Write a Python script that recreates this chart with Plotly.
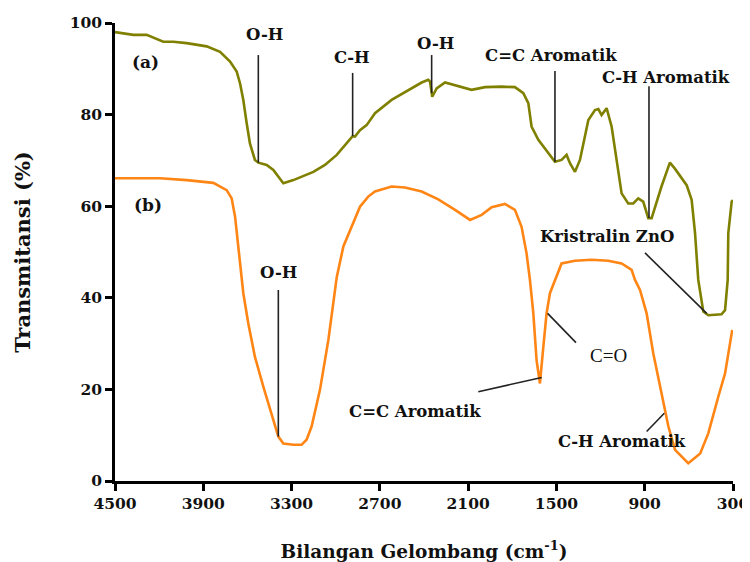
import plotly.graph_objects as go

# ---- data ----
wavenumber_a = [4500, 4375, 4285, 4172, 4104, 4013, 3877, 3786, 3718, 3673, 3650, 3628, 3605, 3583,
                3549, 3526, 3469, 3424, 3356, 3288, 3152, 3073, 2993, 2925, 2885, 2869, 2835, 2790,
                2733, 2620, 2507, 2416, 2371, 2359, 2344, 2314, 2257, 2167, 2077, 1985, 1872, 1782,
                1725, 1691, 1669, 1623, 1555, 1510, 1465, 1431, 1408, 1374, 1340, 1283, 1238, 1215,
                1193, 1159, 1125, 1057, 1012, 978, 944, 910, 876, 853, 786, 729, 695, 615, 581, 558,
                536, 502, 468, 378, 354, 343, 336, 332, 309, 300]
trans_a = [98.0, 97.4, 97.4, 95.9, 95.9, 95.6, 94.9, 93.7, 91.6, 89.4, 86.8, 83.2, 78.1, 73.7,
           70.1, 69.5, 69.0, 67.9, 65.0, 65.7, 67.5, 69.0, 71.2, 73.7, 75.3, 75.2, 76.6, 77.7,
           80.3, 83.2, 85.4, 87.0, 87.6, 87.2, 83.9, 85.7, 87.0, 86.2, 85.4, 86.0, 86.1, 86.0,
           84.7, 82.5, 77.4, 74.5, 71.6, 69.7, 70.1, 71.2, 69.4, 67.5, 70.1, 78.8, 81.0, 81.2,
           79.9, 81.4, 77.4, 62.8, 60.6, 60.6, 61.7, 61.0, 57.4, 57.4, 64.3, 69.5, 68.2, 64.6, 61.4, 54.1,
           43.9, 37.0, 36.2, 36.4, 37.3, 41.7, 43.9, 54.1, 61.0, 61.3]

wavenumber_b = [4500, 4375, 4194, 4013, 3832, 3741, 3707, 3684, 3662, 3639, 3628, 3594, 3549, 3492,
                3435, 3390, 3356, 3288, 3232, 3198, 3164, 3107, 3050, 3005, 2993, 2948, 2892, 2835,
                2779, 2733, 2620, 2529, 2416, 2303, 2189, 2087, 2008, 1940, 1850, 1782, 1737, 1703,
                1680, 1657, 1635, 1612, 1589, 1567, 1544, 1510, 1465, 1374, 1261, 1148, 1057, 989,
                966, 932, 887, 842, 796, 739, 694, 604, 523, 468, 400, 354, 305]
trans_b = [66.1, 66.1, 66.1, 65.7, 65.1, 63.5, 61.7, 57.7, 51.2, 45.3, 41.0, 34.4, 27.1, 20.6,
           14.8, 9.7, 8.2, 7.9, 7.9, 9.0, 11.9, 19.9, 30.8, 41.0, 44.5, 51.2, 55.5, 59.9,
           62.1, 63.2, 64.3, 64.1, 63.2, 61.5, 59.2, 57.0, 58.1, 59.8, 60.5, 59.2, 55.5, 49.7,
           43.9, 36.6, 26.4, 21.3, 29.3, 36.6, 41.0, 43.9, 47.5, 48.1, 48.3, 48.1, 47.5, 46.1,
           43.9, 41.7, 36.6, 27.9, 20.6, 11.9, 6.8, 3.9, 6.0, 10.4, 18.4, 23.5, 33.0]

x_ticks = [4500, 3900, 3300, 2700, 2100, 1500, 900, 300]
y_ticks = [0, 20, 40, 60, 80, 100]

# band labels: text, label centre (wavenumber, %T), leader line start and end
label_text = ["O-H", "C-H", "O-H", "C=C Aromatik", "C-H Aromatik", "Kristralin ZnO",
              "O-H", "C=O", "C=C Aromatik", "C-H Aromatik"]
label_pos = [(3481, 97.4), (2889, 92.4), (2325, 95.6), (1537, 93.0), (755, 88.2), (1156, 53.3),
             (3392, 45.6), (1143, 27.5), (2461, 15.1), (1054, 8.6)]
leader_from = [(3526, 93.0), (2885, 89.1), (2348, 93.0), (1510, 89.5), (871, 86.2), (898, 49.8),
               (3390, 41.7), (1367, 30.2), (2031, 19.5), (767, 14.8)]
leader_to = [(3526, 69.5), (2885, 75.3), (2348, 84.7), (1510, 69.7), (871, 57.4), (479, 36.6),
             (3390, 9.7), (1560, 36.6), (1600, 22.6), (887, 10.8)]
label_bold = [True, True, True, True, True, True, True, False, True, True]

series_text = ["(a)", "(b)"]
series_pos = [(4296, 91.5), (4276, 60.3)]

# ---- figure ----
fig = go.Figure()
fig.add_trace(go.Scatter(x=wavenumber_a, y=trans_a, mode="lines",
                         line=dict(color="#808000", width=2.6), showlegend=False))
fig.add_trace(go.Scatter(x=wavenumber_b, y=trans_b, mode="lines",
                         line=dict(color="#ff8515", width=2.6), showlegend=False))

for (x0, y0), (x1, y1) in zip(leader_from, leader_to):
    fig.add_shape(type="line", xref="x", yref="y", x0=x0, y0=y0, x1=x1, y1=y1,
                  line=dict(color="#222222", width=1.6))

for txt, (x, y), b in zip(label_text, label_pos, label_bold):
    fig.add_annotation(x=x, y=y, xref="x", yref="y", showarrow=False,
                       text=f"<b>{txt}</b>" if b else txt,
                       font=dict(family="DejaVu Serif" if b else "Liberation Serif",
                                 size=16.5 if b else 19, color="#111111"))

for txt, (x, y) in zip(series_text, series_pos):
    fig.add_annotation(x=x, y=y, xref="x", yref="y", showarrow=False,
                       text=f"<b>{txt}</b>",
                       font=dict(family="DejaVu Serif", size=17, color="#111111"))

axis_font = dict(family="DejaVu Serif", size=15.5, color="#111111")
fig.update_layout(
    width=742, height=554,
    margin=dict(l=107, r=17, t=15, b=81),
    paper_bgcolor="white", plot_bgcolor="white",
    xaxis=dict(range=[4500, 300], tickvals=x_ticks, ticktext=[f"<b>{v}</b>" for v in x_ticks],
               automargin=False,
               showgrid=False, zeroline=False, showline=True, linecolor="black", linewidth=2.5,
               ticks="outside", ticklen=7, tickwidth=2.5, tickcolor="black", tickfont=axis_font,
               title=dict(text="<b>Bilangan Gelombang (cm<sup>-1</sup>)</b>",
                          font=dict(family="DejaVu Serif", size=18.5, color="#111111"),
                          standoff=33)),
    yaxis=dict(range=[0, 100], tickvals=y_ticks, ticktext=[f"<b>{v}</b>" for v in y_ticks],
               automargin=False,
               showgrid=False, zeroline=False, showline=True, linecolor="black", linewidth=2.5,
               ticks="outside", ticklen=7, tickwidth=2.5, tickcolor="black", tickfont=axis_font,
               title=dict(text="<b>Transmitansi (%)</b>",
                          font=dict(family="DejaVu Serif", size=21, color="#111111"),
                          standoff=34)),
)

fig.write_html("out.html")
